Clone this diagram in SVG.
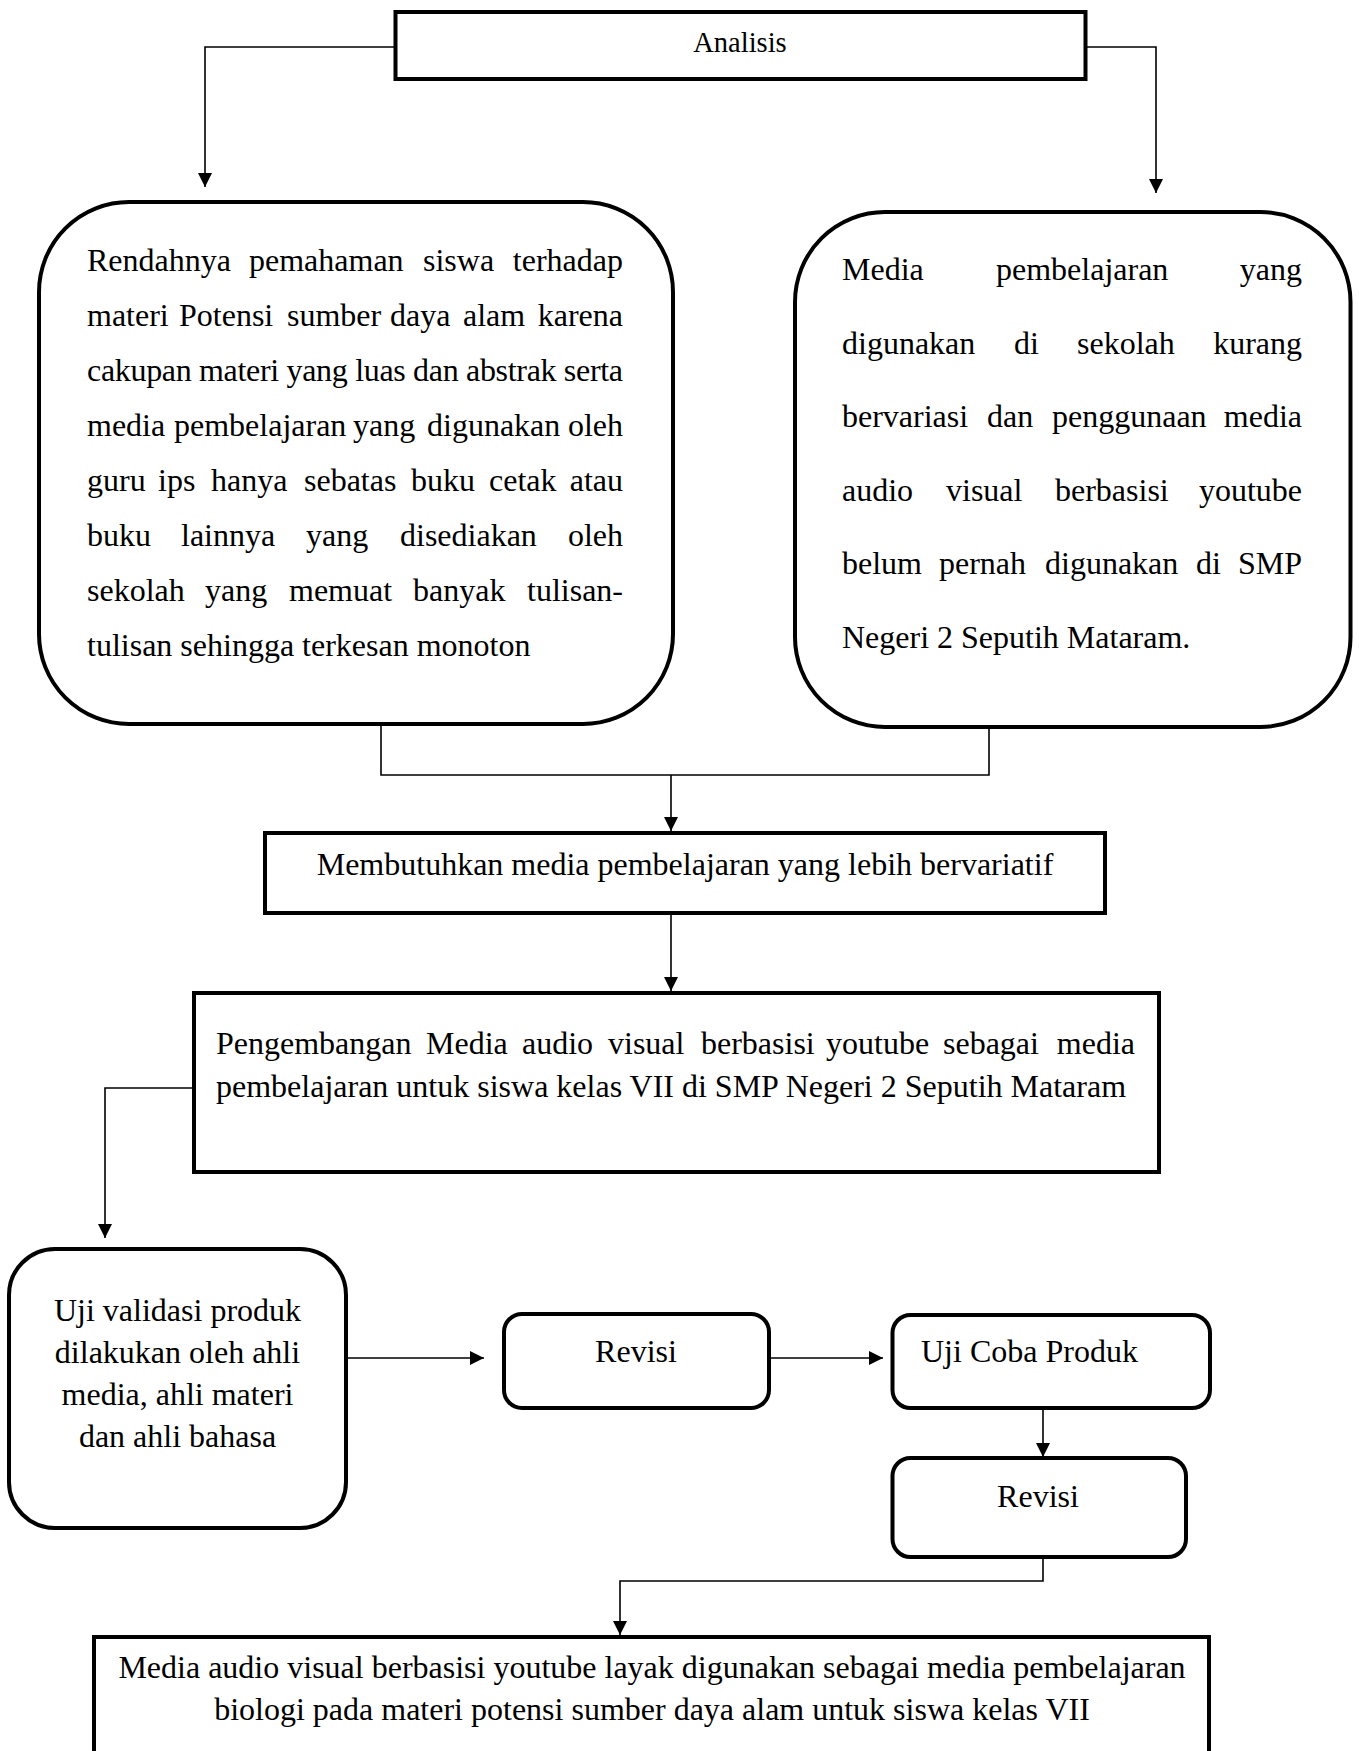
<svg xmlns="http://www.w3.org/2000/svg" width="1359" height="1751" viewBox="0 0 1359 1751">
<style>
  .box { fill: #fff; stroke: #000; stroke-width: 4; }
  .t { font-family: "Liberation Serif", "Times New Roman", serif; font-size: 32px; fill: #000; }
  .c { text-anchor: middle; }
  .e { text-anchor: end; }
  .conn { fill: none; stroke: #000; stroke-width: 1.6; }
</style>
<defs>
  <marker id="ah" markerUnits="userSpaceOnUse" markerWidth="14" markerHeight="16" refX="14" refY="7" orient="auto">
    <path d="M0,0 L14,7 L0,14 Z" fill="#000"/>
  </marker>
</defs>
<rect width="1359" height="1751" fill="#fff"/>

<g id="connectors">
  <path class="conn" d="M395,47 H205 V187" marker-end="url(#ah)"/>
  <path class="conn" d="M1086,47 H1156 V193" marker-end="url(#ah)"/>
  <path class="conn" d="M381,724 V775 H989 V728"/>
  <path class="conn" d="M671,775 V831" marker-end="url(#ah)"/>
  <path class="conn" d="M671,913 V991" marker-end="url(#ah)"/>
  <path class="conn" d="M194,1088 H105 V1238" marker-end="url(#ah)"/>
  <path class="conn" d="M346,1358 H484" marker-end="url(#ah)"/>
  <path class="conn" d="M769,1358 H883" marker-end="url(#ah)"/>
  <path class="conn" d="M1043,1408 V1457" marker-end="url(#ah)"/>
  <path class="conn" d="M1043,1557 V1581 H620 V1635" marker-end="url(#ah)"/>
</g>

<g id="analisis">
  <rect class="box" x="395.5" y="12" width="690" height="67"/>
  <text class="t c" x="740" y="52" style="font-size:28.5px">Analisis</text>
</g>

<g id="masalah-kiri">
  <rect class="box" x="39" y="202" width="634" height="522" rx="90" ry="90"/>
  <text class="t" y="271"><tspan x="87">Rendahnya</tspan><tspan x="249">pemahaman</tspan><tspan x="423">siswa</tspan><tspan x="623" class="e">terhadap</tspan></text>
  <text class="t" y="326"><tspan x="87">materi</tspan><tspan x="179">Potensi</tspan><tspan x="287">sumber</tspan><tspan x="390">daya</tspan><tspan x="463">alam</tspan><tspan x="623" class="e">karena</tspan></text>
  <text class="t" y="381" textLength="536" lengthAdjust="spacing" x="87">cakupan materi yang luas dan abstrak serta</text>
  <text class="t" y="436"><tspan x="87">media</tspan><tspan x="174">pembelajaran</tspan><tspan x="353">yang</tspan><tspan x="427">digunakan</tspan><tspan x="623" class="e">oleh</tspan></text>
  <text class="t" y="491"><tspan x="87">guru</tspan><tspan x="158">ips</tspan><tspan x="211">hanya</tspan><tspan x="304">sebatas</tspan><tspan x="411">buku</tspan><tspan x="489">cetak</tspan><tspan x="623" class="e">atau</tspan></text>
  <text class="t" y="546"><tspan x="87">buku</tspan><tspan x="181">lainnya</tspan><tspan x="306">yang</tspan><tspan x="400">disediakan</tspan><tspan x="623" class="e">oleh</tspan></text>
  <text class="t" y="601"><tspan x="87">sekolah</tspan><tspan x="205">yang</tspan><tspan x="289">memuat</tspan><tspan x="413">banyak</tspan><tspan x="623" class="e">tulisan-</tspan></text>
  <text class="t" x="87" y="656">tulisan sehingga terkesan monoton</text>
</g>

<g id="masalah-kanan">
  <rect class="box" x="795" y="212" width="555.5" height="515" rx="90" ry="90"/>
  <text class="t" y="280"><tspan x="842">Media</tspan><tspan x="996">pembelajaran</tspan><tspan x="1302" class="e">yang</tspan></text>
  <text class="t" y="353.5"><tspan x="842">digunakan</tspan><tspan x="1014">di</tspan><tspan x="1077">sekolah</tspan><tspan x="1302" class="e">kurang</tspan></text>
  <text class="t" y="427"><tspan x="842">bervariasi</tspan><tspan x="987">dan</tspan><tspan x="1052">penggunaan</tspan><tspan x="1302" class="e">media</tspan></text>
  <text class="t" y="500.5"><tspan x="842">audio</tspan><tspan x="946">visual</tspan><tspan x="1055">berbasisi</tspan><tspan x="1302" class="e">youtube</tspan></text>
  <text class="t" y="574"><tspan x="842">belum</tspan><tspan x="939">pernah</tspan><tspan x="1045">digunakan</tspan><tspan x="1196">di</tspan><tspan x="1302" class="e">SMP</tspan></text>
  <text class="t" x="842" y="647.5">Negeri 2 Seputih Mataram.</text>
</g>

<g id="kebutuhan">
  <rect class="box" x="265" y="833" width="840" height="80"/>
  <text class="t c" x="685" y="875">Membutuhkan media pembelajaran yang lebih bervariatif</text>
</g>

<g id="pengembangan">
  <rect class="box" x="194" y="993" width="965" height="179"/>
  <text class="t" y="1054"><tspan x="216">Pengembangan</tspan><tspan x="426">Media</tspan><tspan x="522">audio</tspan><tspan x="608">visual</tspan><tspan x="701">berbasisi</tspan><tspan x="826">youtube</tspan><tspan x="943">sebagai</tspan><tspan x="1135" class="e">media</tspan></text>
  <text class="t" x="216" y="1097">pembelajaran untuk siswa kelas VII di SMP Negeri 2 Seputih Mataram</text>
</g>

<g id="uji-validasi">
  <rect class="box" x="9" y="1249" width="337" height="279" rx="46" ry="46"/>
  <text class="t c" x="177.5" y="1321">Uji validasi produk</text>
  <text class="t c" x="177.5" y="1363">dilakukan oleh ahli</text>
  <text class="t c" x="177.5" y="1405">media, ahli materi</text>
  <text class="t c" x="177.5" y="1447">dan ahli bahasa</text>
</g>

<g id="revisi-1">
  <rect class="box" x="504" y="1314" width="265" height="94" rx="18" ry="18"/>
  <text class="t c" x="636" y="1362">Revisi</text>
</g>

<g id="uji-coba">
  <rect class="box" x="892.5" y="1315" width="317.5" height="93" rx="18" ry="18"/>
  <text class="t" x="921" y="1362">Uji Coba Produk</text>
</g>

<g id="revisi-2">
  <rect class="box" x="892.5" y="1458" width="293.5" height="99" rx="18" ry="18"/>
  <text class="t c" x="1038" y="1507">Revisi</text>
</g>

<g id="kesimpulan">
  <rect class="box" x="94" y="1637" width="1115" height="140"/>
  <text class="t c" x="652" y="1678">Media audio visual berbasisi youtube layak digunakan sebagai media pembelajaran</text>
  <text class="t c" x="652" y="1720">biologi pada materi potensi sumber daya alam untuk siswa kelas VII</text>
</g>
</svg>
